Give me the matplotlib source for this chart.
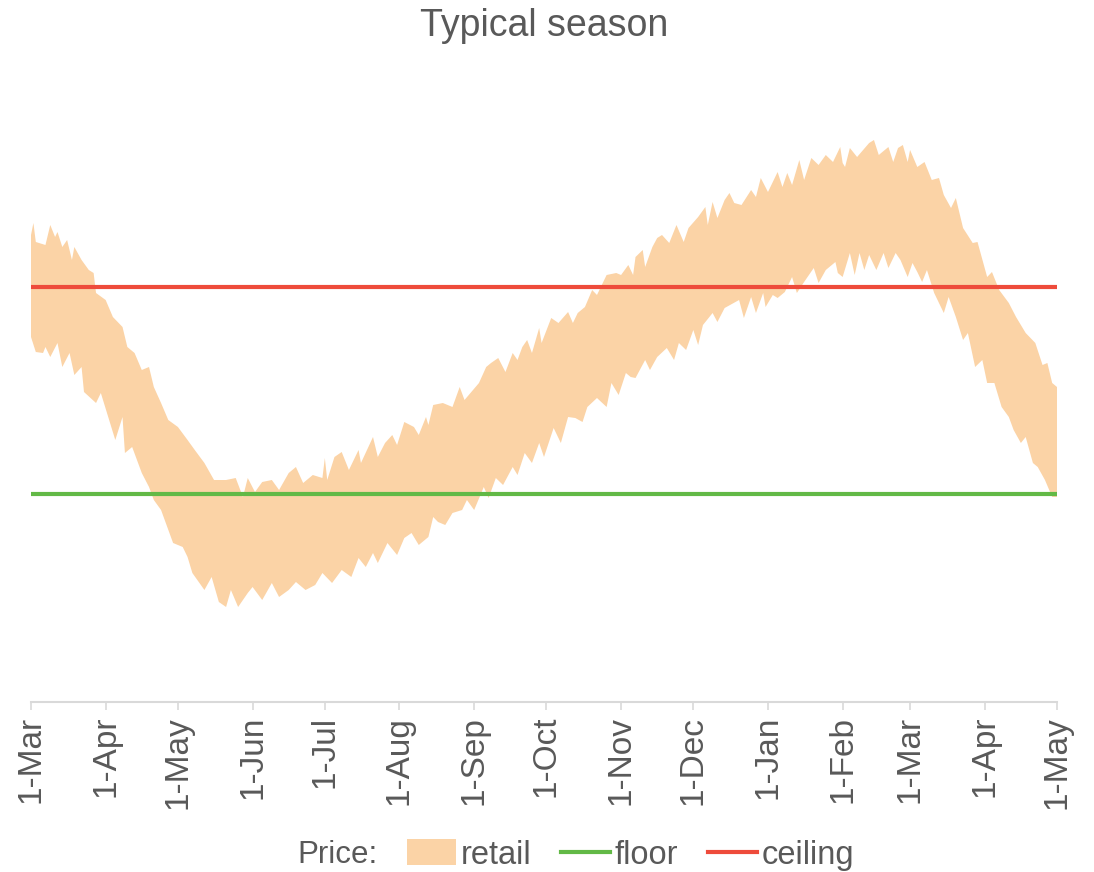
import numpy as np
import matplotlib
matplotlib.use("Agg")
import matplotlib.pyplot as plt
import matplotlib.dates as mdates
from matplotlib.patches import Patch
from matplotlib.lines import Line2D

plt.rcParams['font.family'] = ['Liberation Sans', 'DejaVu Sans']

# season runs 1-Mar to 1-May of the following year
season_start = np.datetime64('2018-03-01')
season_end = np.datetime64('2019-05-01')

# upper edge of the retail price band (day offset, price)
high_days = [0, 1, 2, 6, 8, 10, 11, 13, 15, 17, 18, 21, 24, 26, 27, 31, 34, 38, 40, 43,
             46, 49, 51, 54, 57, 61, 65, 68, 72, 76, 81, 85, 88, 90, 93, 96, 100, 103, 107, 110,
             113, 117, 121, 122, 123, 126, 129, 132, 136, 137, 142, 144, 147, 150, 152, 155, 159, 161, 164, 165,
             167, 171, 175, 178, 180, 186, 189, 191, 194, 197, 200, 202, 204, 206, 208, 211, 212, 216, 219, 223,
             225, 227, 230, 233, 235, 239, 243, 245, 248, 250, 251, 254, 255, 258, 260, 262, 265, 268, 271, 273,
             277, 280, 281, 283, 285, 288, 290, 292, 295, 299, 301, 303, 306, 310, 312, 314, 316, 319, 321, 324,
             327, 330, 333, 336, 337, 338, 340, 343, 348, 350, 352, 356, 358, 360, 362, 364, 365, 368, 371, 374,
             377, 379, 382, 384, 387, 391, 393, 397, 399, 402, 406, 409, 413, 417, 420, 422, 424, 426]
high_vals = [467, 479, 460, 457, 477, 465, 470, 455, 462, 442, 455, 442, 432, 429, 409, 402, 385, 375, 355, 349,
             332, 335, 315, 299, 282, 275, 262, 252, 239, 222, 222, 224, 205, 224, 210, 220, 222, 212, 229, 235,
             219, 227, 224, 244, 222, 245, 250, 232, 252, 239, 265, 245, 259, 267, 257, 280, 275, 267, 285, 277,
             297, 299, 295, 315, 302, 319, 335, 339, 344, 330, 349, 342, 355, 362, 349, 374, 359, 384, 379, 390,
             379, 389, 395, 412, 407, 427, 429, 427, 437, 427, 445, 452, 435, 455, 464, 467, 459, 477, 460, 474,
             485, 495, 477, 500, 484, 502, 509, 499, 497, 512, 505, 524, 510, 530, 515, 529, 517, 542, 522, 544,
             537, 547, 540, 555, 539, 535, 554, 545, 559, 562, 547, 555, 540, 554, 557, 540, 552, 535, 540, 522,
             524, 507, 494, 504, 474, 459, 460, 425, 430, 412, 399, 385, 369, 359, 337, 339, 319, 315]

# lower edge of the retail price band (day offset, price)
low_days = [0, 2, 5, 6, 8, 11, 13, 16, 18, 21, 22, 27, 29, 35, 38, 39, 42, 46, 49, 51,
            54, 59, 63, 65, 67, 72, 75, 78, 81, 83, 86, 90, 92, 96, 100, 103, 107, 110, 114, 118,
            121, 125, 129, 133, 136, 139, 142, 144, 148, 152, 155, 158, 161, 165, 167, 169, 172, 175, 179, 181,
            184, 188, 190, 193, 196, 200, 202, 205, 208, 211, 213, 217, 220, 223, 226, 229, 231, 235, 239, 241,
            244, 247, 249, 251, 255, 257, 260, 264, 267, 269, 272, 275, 277, 279, 283, 285, 288, 294, 296, 299,
            301, 304, 305, 308, 310, 313, 316, 318, 321, 325, 327, 330, 334, 335, 337, 340, 342, 344, 346, 348,
            351, 354, 356, 359, 361, 364, 366, 368, 370, 372, 375, 379, 381, 384, 387, 389, 392, 395, 397, 400,
            403, 406, 408, 411, 413, 416, 418, 421, 424, 426]
low_vals = [365, 350, 349, 355, 345, 359, 335, 349, 327, 335, 310, 299, 309, 262, 285, 249, 255, 229, 215, 202,
            192, 159, 155, 145, 129, 112, 125, 100, 95, 112, 95, 109, 115, 102, 119, 105, 112, 120, 112, 117,
            129, 119, 132, 125, 144, 135, 149, 139, 159, 147, 164, 169, 157, 165, 185, 180, 177, 189, 192, 202,
            192, 215, 204, 224, 217, 235, 227, 249, 239, 259, 245, 274, 259, 285, 284, 280, 295, 304, 295, 319,
            307, 329, 325, 324, 342, 332, 345, 354, 342, 359, 352, 372, 357, 377, 389, 380, 394, 402, 384, 405,
            389, 409, 395, 407, 404, 410, 425, 409, 420, 434, 419, 432, 440, 429, 425, 449, 427, 449, 432, 447,
            432, 449, 434, 449, 442, 425, 439, 430, 420, 432, 409, 389, 405, 385, 362, 369, 335, 342, 319, 319,
            295, 285, 272, 259, 265, 239, 235, 222, 205, 205]

floor_price = 208
ceiling_price = 415

band_color = '#FBD3A6'
floor_color = '#62B946'
ceiling_color = '#EE4B3B'
text_color = '#595959'

high_dates = season_start + np.array(high_days).astype('timedelta64[D]')
low_dates = season_start + np.array(low_days).astype('timedelta64[D]')

fig = plt.figure(figsize=(10.94, 8.72), dpi=100)
ax = fig.add_axes([31 / 1094, 170 / 872, 1026 / 1094, 622 / 872])

# band as a closed polygon: upper edge forward, lower edge back
band_x = np.concatenate([high_dates, low_dates[::-1]])
band_y = np.concatenate([high_vals, low_vals[::-1]])
ax.fill(band_x, band_y, color=band_color, linewidth=0)

ax.plot([season_start, season_end], [floor_price, floor_price], color=floor_color, lw=3)
ax.plot([season_start, season_end], [ceiling_price, ceiling_price], color=ceiling_color, lw=3)

ax.set_xlim(season_start, season_end)
ax.set_ylim(0, 622)

# X Axis
ax.xaxis.set_major_locator(mdates.MonthLocator())
ax.xaxis.set_major_formatter(lambda x, pos: '{}-{}'.format(mdates.num2date(x).day,
                                                          mdates.num2date(x).strftime('%b')))
ax.tick_params(axis='x', colors='#D9D9D9', labelcolor=text_color, labelsize=24,
               labelrotation=90, length=6, width=1.2, pad=4)
ax.set_yticks([])

# Remove spines
for side in ['left', 'right', 'top']:
    ax.spines[side].set_visible(False)
ax.spines['bottom'].set_color('#D9D9D9')
ax.spines['bottom'].set_linewidth(1.5)

fig.text(544 / 1094, 1 - 26 / 872, 'Typical season', ha='center', va='center',
         fontsize=27, color=text_color)

# Legend with a leading "Price:" label
fig.text(297 / 1094, 1 - 855 / 872, 'Price:', ha='left', va='center',
         fontsize=22.5, color=text_color)
handles = [Patch(color=band_color, linewidth=0),
           Line2D([], [], color=floor_color, lw=3),
           Line2D([], [], color=ceiling_color, lw=3)]
fig.legend(handles, ['retail', 'floor', 'ceiling'], ncol=3, frameon=False,
           loc='center left', bbox_to_anchor=(407 / 1094, 1 - 855 / 872),
           fontsize=23.5, labelcolor=text_color, handlelength=1.5, handleheight=0.85,
           handletextpad=0.15, columnspacing=0.9, borderpad=0, borderaxespad=0)

fig.set_facecolor('#FFFFFF')
fig.savefig('out.png', dpi=100)
